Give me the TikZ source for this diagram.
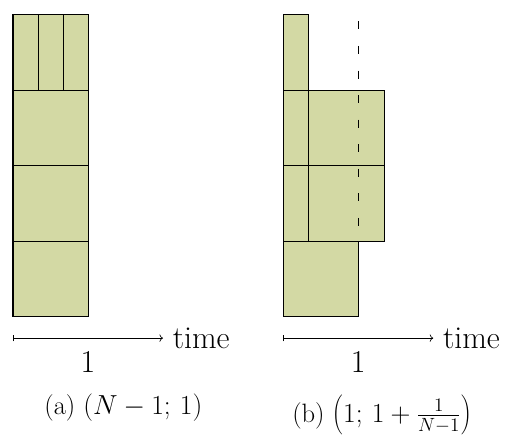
\documentclass[tikz,border=0pt]{standalone}
\usepackage{tikz}
\usetikzlibrary{arrows.meta, positioning}
\definecolor{jobfill}{RGB}{211,217,164}

\begin{document}
\begin{tikzpicture}[
    job/.style={draw=black, fill=jobfill, line width=0.8pt},
    axis/.style={|->, line width=0.5pt},
    lbl/.style={font=\fontsize{24}{28}\selectfont, inner sep=0pt},
    captext/.style={font=\fontsize{20}{24}\selectfont, inner sep=0pt, anchor=base}
]
    \useasboundingbox (-0.344,-3.23) rectangle (13.07,8.386);

    % (a) N-1 parallel jobs
    \draw[job] (0,6) rectangle (0.667,8);
    \draw[job] (0.667,6) rectangle (1.333,8);
    \draw[job] (1.333,6) rectangle (2,8);
    \foreach \r in {0,2,4}
        \draw[job] (0,\r) rectangle (2,\r+2);

    % (b) shifted schedule
    \draw[job] (7.15,6) rectangle (7.817,8);
    \draw[job] (7.15,4) rectangle (7.817,6);
    \draw[job] (7.817,4) rectangle (9.817,6);
    \draw[job] (7.15,2) rectangle (7.817,4);
    \draw[job] (7.817,2) rectangle (9.817,4);
    \draw[job] (7.15,0) rectangle (9.15,2);
    \coordinate (dtop) at (9.15,7.82);
    \coordinate (dbot) at (9.15,0);
    \draw[dash pattern=on 6pt off 12.5pt, line width=0.7pt] (dtop) -- (dbot);

    % Time axes
    \coordinate (a0) at (0,-0.56);
    \coordinate (a1) at (3.97,-0.56);
    \draw[axis] (a0) -- (a1);
    \node[lbl, anchor=west] (ta) at ([xshift=0.25cm]a1) {time};
    \node[lbl] (ua) at (1.98,-1.19) {1};

    \coordinate (b0) at (7.15,-0.56);
    \coordinate (b1) at (11.12,-0.56);
    \draw[axis] (b0) -- (b1);
    \node[lbl, anchor=west] (tb) at ([xshift=0.25cm]b1) {time};
    \node[lbl] (ub) at (9.13,-1.19) {1};

    % Captions
    \node[captext] (capa) at (2.92,-2.57) {(a) $(N-1;\,1)$};
    \node[captext] (capb) at (9.76,-2.78) {(b) $\left(1;\,1+\frac{1}{N-1}\right)$};
\end{tikzpicture}
\end{document}
